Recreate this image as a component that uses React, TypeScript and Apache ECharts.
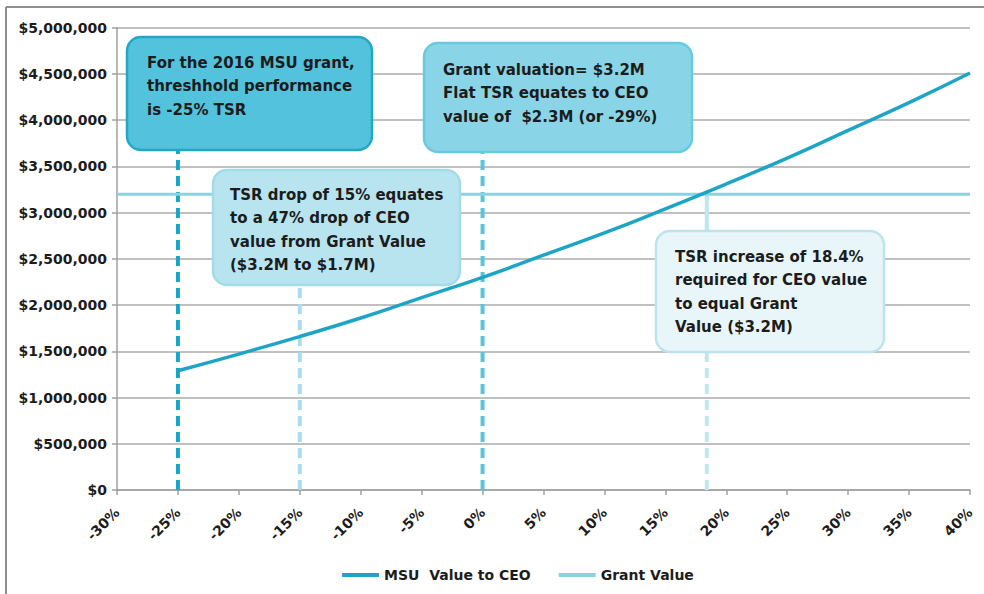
import React, { useEffect, useRef } from "react";
import * as echarts from "echarts";

const tsrPoints = [-25, -20, -15, -10, -5, 0, 5, 10, 15, 20, 25, 30, 35, 40];
const msuValues = [1290000, 1470000, 1660000, 1860000, 2080000, 2300000, 2540000, 2780000, 3040000, 3310000, 3590000, 3890000, 4190000, 4510000];
const grantX = [-30, 40];
const grantValue = 3200000;
const yTicks = { min: 0, max: 5000000, interval: 500000 };
const xTicks = { min: -30, max: 40, interval: 5 };

const guideLines = [
  { x: -25, top: 3700000, color: "#1aa5c5" },
  { x: -15, top: 2300000, color: "#a8ddea" },
  { x: 0, top: 3700000, color: "#58c4dd" },
  { x: 18.4, top: 3200000, color: "#c0e6ef" },
];

const notes = [
  { x: 127, y: 37, w: 245, h: 113, fill: "#53c2dc", stroke: "#22a7c6", tx: 147, ty: 51,
    lines: ["For the 2016 MSU grant,", "threshhold performance", "is -25% TSR"] },
  { x: 424, y: 43, w: 268, h: 109, fill: "#89d5e7", stroke: "#68cadf", tx: 443, ty: 58,
    lines: ["Grant valuation= $3.2M", "Flat TSR equates to CEO", "value of  $2.3M (or -29%)"] },
  { x: 213, y: 170, w: 247, h: 115, fill: "#b8e4ef", stroke: "#a4dbe9", tx: 230, ty: 183,
    lines: ["TSR drop of 15% equates", "to a 47% drop of CEO", "value from Grant Value", "($3.2M to $1.7M)"] },
  { x: 656, y: 231, w: 228, h: 121, fill: "#e8f6fa", stroke: "#bde4ee", tx: 675, ty: 245,
    lines: ["TSR increase of 18.4%", "required for CEO value", "to equal Grant", "Value ($3.2M)"] },
];

const FONT = "'DejaVu Sans', sans-serif";
const TEXT = "#1c1c1c";

export default function App() {
  const ref = useRef<HTMLDivElement>(null);
  useEffect(() => {
    if (!ref.current) return;
    const chart = echarts.init(ref.current, null, { renderer: "svg" });
    const series: any[] = [];
    guideLines.forEach((g, i) => {
      series.push({
        name: "guide" + i,
        type: "line",
        data: [[g.x, 0], [g.x, g.top]],
        symbol: "none",
        silent: true,
        z: 1,
        lineStyle: { color: g.color, width: 4, type: [10, 6] },
      });
    });
    series.push({
      name: "guideSolid",
      type: "line",
      data: [[18.4, 2800000], [18.4, 3200000]],
      symbol: "none",
      silent: true,
      z: 1,
      lineStyle: { color: "#c0e6ef", width: 4 },
    });
    series.push({
      name: "Grant Value",
      type: "line",
      data: grantX.map((x) => [x, grantValue]),
      symbol: "none",
      z: 3,
      lineStyle: { color: "#8ad3e3", width: 3 },
      itemStyle: { color: "#8ad3e3" },
    });
    series.push({
      name: "MSU  Value to CEO",
      type: "line",
      data: tsrPoints.map((x, i) => [x, msuValues[i]]),
      symbol: "none",
      smooth: true,
      z: 4,
      lineStyle: { color: "#1ea5c5", width: 3.5 },
      itemStyle: { color: "#1ea5c5" },
    });

    const graphics: any[] = [
      { type: "line", z: 200, shape: { x1: 6, y1: 7, x2: 984, y2: 7 }, style: { stroke: "#8f8f8f", lineWidth: 2 } },
      { type: "line", z: 200, shape: { x1: 6, y1: 7, x2: 6, y2: 594 }, style: { stroke: "#8f8f8f", lineWidth: 2 } },
    ];
    notes.forEach((n) => {
      graphics.push({
        type: "rect",
        z: 100,
        shape: { x: n.x, y: n.y, width: n.w, height: n.h, r: 14 },
        style: { fill: n.fill, stroke: n.stroke, lineWidth: 2.5 },
      });
      graphics.push({
        type: "text",
        z: 101,
        x: n.tx,
        y: n.ty,
        style: {
          text: n.lines.join("\n"),
          font: "bold 15px " + FONT,
          fill: TEXT,
          lineHeight: 23.5,
          verticalAlign: "top",
          align: "left",
        },
      });
    });

    chart.setOption({
      animation: false,
      backgroundColor: "#ffffff",
      grid: { left: 117, right: 14, top: 27.7, bottom: 104, containLabel: false },
      legend: {
        data: [
          { name: "MSU  Value to CEO", icon: "rect", itemStyle: { color: "#1ea5c5" } },
          { name: "Grant Value", icon: "rect", itemStyle: { color: "#8ad3e3" } },
        ],
        left: 337,
        top: 563,
        itemWidth: 37,
        itemHeight: 4,
        itemGap: 28,
        textStyle: { fontFamily: FONT, fontWeight: "bold", fontSize: 14, color: TEXT },
      },
      xAxis: {
        type: "value",
        min: xTicks.min,
        max: xTicks.max,
        interval: xTicks.interval,
        axisLine: { show: true, onZero: false, lineStyle: { color: "#a0a0a0", width: 1.5 } },
        axisTick: { show: true, length: 5, lineStyle: { color: "#a0a0a0", width: 1.5 } },
        splitLine: { show: false },
        axisLabel: {
          rotate: 45,
          margin: 20,
          formatter: (v: number) => v + "%",
          fontFamily: FONT,
          fontWeight: "bold",
          fontSize: 14,
          color: TEXT,
        },
      },
      yAxis: {
        type: "value",
        min: yTicks.min,
        max: yTicks.max,
        interval: yTicks.interval,
        axisLine: { show: true, onZero: false, lineStyle: { color: "#a0a0a0", width: 1.5 } },
        axisTick: { show: true, length: 5, lineStyle: { color: "#a0a0a0", width: 1.5 } },
        splitLine: { show: true, lineStyle: { color: "#ababab", width: 1.5 } },
        axisLabel: {
          margin: 10,
          formatter: (v: number) => "$" + v.toLocaleString("en-US"),
          fontFamily: FONT,
          fontWeight: "bold",
          fontSize: 14,
          color: TEXT,
        },
      },
      series,
      graphic: graphics,
    });
    return () => chart.dispose();
  }, []);
  return (
    <div
      ref={ref}
      style={{ position: "fixed", left: 0, top: 0, width: 984, height: 594, background: "#fff" }}
    />
  );
}
